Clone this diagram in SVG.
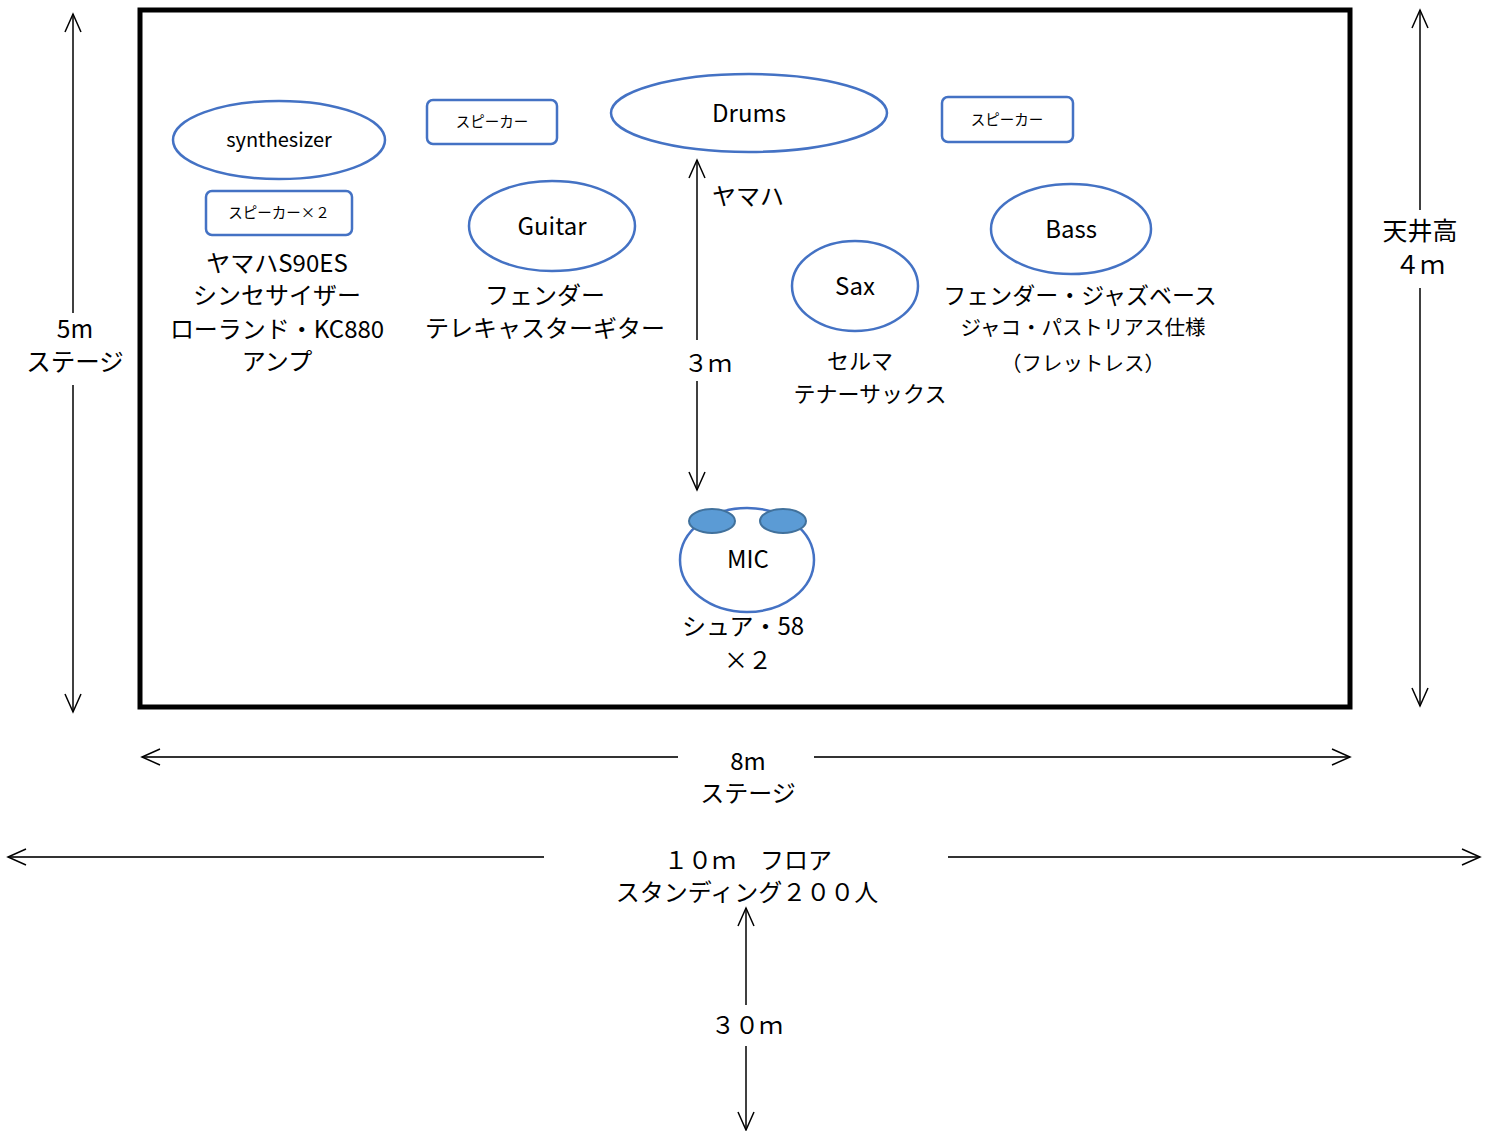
<svg xmlns="http://www.w3.org/2000/svg" width="1493" height="1131" viewBox="0 0 1493 1131">
<style>
text{font-family:"Noto Sans CJK JP","Noto Sans",sans-serif;fill:#000;text-anchor:middle;dominant-baseline:central}
.node{fill:#fff;stroke:#4472C4;stroke-width:2.5}
.dim{stroke:#000;stroke-width:1.5;fill:none}
.dimh{stroke:#333;stroke-width:2;fill:none}
.lbl{font-size:24px}
.sm{font-size:14.5px}
.mid{font-size:22px}
.big{font-size:24.5px}
</style>
<defs>
<marker id="ah" viewBox="-20 -10 22 20" refX="0" refY="0" markerWidth="22" markerHeight="20" markerUnits="userSpaceOnUse" orient="auto">
<path d="M-18,-8 L0,0 L-18,8" fill="none" stroke="#000" stroke-width="1.5"/>
</marker>
</defs>
<rect x="0" y="0" width="1493" height="1131" fill="#fff"/>
<g id="stage">
<rect x="140" y="10" width="1210" height="697" fill="none" stroke="#000" stroke-width="5"/>
</g>
<g id="connectors">
<path class="dim" d="M73,313 L73,14" marker-end="url(#ah)"/>
<path class="dim" d="M73,385 L73,712" marker-end="url(#ah)"/>
<path class="dim" d="M1420,210 L1420,10" marker-end="url(#ah)"/>
<path class="dim" d="M1420,288 L1420,706" marker-end="url(#ah)"/>
<path class="dim" d="M697,340 L697,160" marker-end="url(#ah)"/>
<path class="dim" d="M697,381 L697,490" marker-end="url(#ah)"/>
<path class="dimh" d="M678,757 L142,757" marker-end="url(#ah)"/>
<path class="dimh" d="M814,757 L1350,757" marker-end="url(#ah)"/>
<path class="dimh" d="M544,857 L8,857" marker-end="url(#ah)"/>
<path class="dimh" d="M948,857 L1480,857" marker-end="url(#ah)"/>
<path class="dim" d="M746,1005 L746,908" marker-end="url(#ah)"/>
<path class="dim" d="M746,1046 L746,1130" marker-end="url(#ah)"/>
</g>
<g id="synthesizer">
<ellipse class="node" cx="279" cy="140" rx="106" ry="39"/>
<text x="279" y="138" font-size="20">synthesizer</text>
</g>
<g id="speaker2">
<rect class="node" x="206" y="191" width="146" height="44" rx="6"/>
<text class="sm" x="279" y="211">スピーカー×２</text>
</g>
<g id="synth-label">
<text class="lbl" x="277" y="261">ヤマハS90ES<tspan x="277" dy="32">シンセサイザー</tspan><tspan x="277" dy="34">ローランド・KC880</tspan><tspan x="277" dy="32">アンプ</tspan></text>
</g>
<g id="speaker-left">
<rect class="node" x="427" y="100" width="130" height="44" rx="6"/>
<text class="sm" x="492" y="120">スピーカー</text>
</g>
<g id="drums">
<ellipse class="node" cx="749" cy="113" rx="138" ry="39"/>
<text class="lbl" x="749" y="111">Drums</text>
</g>
<g id="speaker-right">
<rect class="node" x="942" y="97" width="131" height="45" rx="6"/>
<text class="sm" x="1007" y="118">スピーカー</text>
</g>
<g id="guitar">
<ellipse class="node" cx="552" cy="226" rx="83" ry="45"/>
<text class="lbl" x="552" y="224">Guitar</text>
<text class="lbl" x="545" y="293">フェンダー<tspan x="545" dy="33">テレキャスターギター</tspan></text>
</g>
<g id="sax">
<ellipse class="node" cx="855" cy="286" rx="63" ry="45"/>
<text class="lbl" x="855" y="284">Sax</text>
<text class="mid" x="860" y="359">セルマ<tspan x="870" dy="33">テナーサックス</tspan></text>
</g>
<g id="bass">
<ellipse class="node" cx="1071" cy="229" rx="80" ry="45"/>
<text class="lbl" x="1071" y="227">Bass</text>
<text font-size="23" x="1080" y="294">フェンダー・ジャズベース</text>
<text font-size="20.5" x="1083" y="326">ジャコ・パストリアス仕様<tspan x="1083" dy="36">（フレットレス）</tspan></text>
</g>
<g id="mic">
<ellipse class="node" cx="747" cy="560" rx="67" ry="52"/>
<ellipse cx="712" cy="521" rx="23" ry="12" fill="#5B9BD5" stroke="#41719C" stroke-width="2"/>
<ellipse cx="783" cy="521" rx="23" ry="12" fill="#5B9BD5" stroke="#41719C" stroke-width="2"/>
<text class="lbl" x="748" y="557">MIC</text>
<text class="lbl" x="743" y="624">シュア・58<tspan x="748" dy="34">×２</tspan></text>
</g>
<g id="labels">
<text class="lbl" x="748" y="194">ヤマハ</text>
<text class="lbl" x="708" y="361">３ｍ</text>
<text class="big" x="75" y="327">5m<tspan x="75" dy="33">ステージ</tspan></text>
<text font-size="25" x="1420" y="229">天井高<tspan x="1420" dy="34">４ｍ</tspan></text>
<text class="lbl" x="748" y="759">8m<tspan x="748" dy="32">ステージ</tspan></text>
<text class="lbl" x="748" y="858">１０ｍ　フロア<tspan x="747" dy="32">スタンディング２００人</tspan></text>
<text class="lbl" x="747" y="1023">３０ｍ</text>
</g>
</svg>
